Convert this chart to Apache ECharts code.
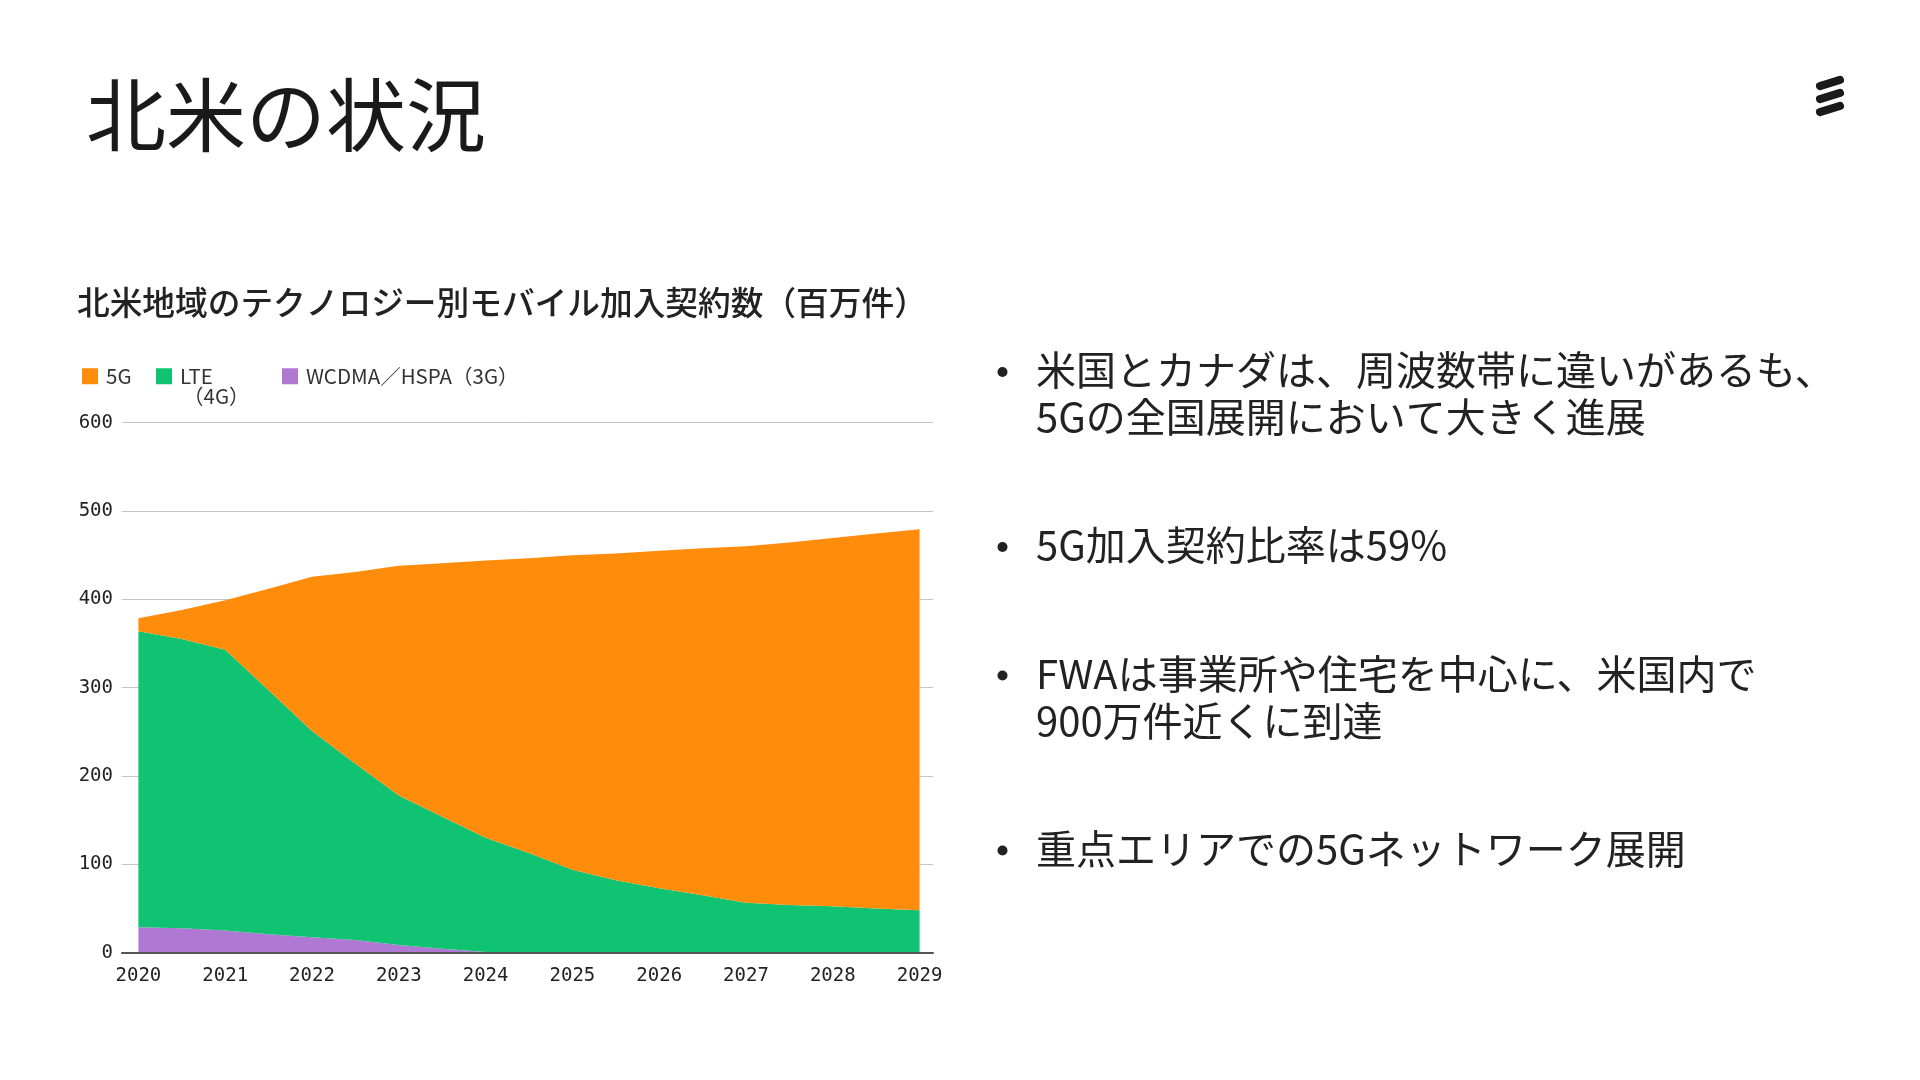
<!DOCTYPE html>
<html>
<head>
<meta charset="utf-8">
<script src="https://cdn.jsdelivr.net/npm/echarts@6/dist/echarts.min.js"></script>
<style>
  html, body { margin: 0; padding: 0; background: #ffffff; }
  #chart { width: 1920px; height: 1080px; }
</style>
</head>
<body>
<div id="chart"></div>
<script>
// ---- data ----
const years = ['2020', '2020.5', '2021', '2021.5', '2022', '2022.5', '2023', '2023.5', '2024', '2024.5',
               '2025', '2025.5', '2026', '2026.5', '2027', '2027.5', '2028', '2028.5', '2029'];
const wcdma3g = [28.7, 27.6, 25, 21, 17.4, 14.3, 8.7, 4.5, 0.8, 0,
                 0, 0, 0, 0, 0, 0, 0, 0, 0];
const lte4g = [335.3, 327.4, 318, 276, 233.6, 199.7, 169.3, 149.5, 129.2, 113,
               94, 82, 73, 65, 56.5, 54, 52.5, 50, 48];
const nr5g = [14.5, 33, 56, 115, 174.5, 217, 260, 287, 314, 333.5,
              356, 370, 382, 393, 403.5, 410.5, 417, 424.5, 431.5];
const seriesNames = ['WCDMA／HSPA（3G）', 'LTE（4G）', '5G'];
const seriesColors = ['#AF78D2', '#0FC373', '#FF8C0A'];
const yTicks = { min: 0, max: 600, interval: 100 };

const pageTitle = '北米の状況';
const chartTitle = '北米地域のテクノロジー別モバイル加入契約数（百万件）';
const bullets = [
  ['米国とカナダは、周波数帯に違いがあるも、', '5Gの全国展開において大きく進展'],
  ['5G加入契約比率は59%'],
  ['FWAは事業所や住宅を中心に、米国内で', '900万件近くに到達'],
  ['重点エリアでの5Gネットワーク展開']
];

// ---- chart ----
const chart = echarts.init(document.getElementById('chart'), null, { renderer: 'canvas' });
const jp = '"Noto Sans CJK JP", "Noto Sans", sans-serif';
const mono = '"DejaVu Sans Mono", monospace';

const allVals = [wcdma3g, lte4g, nr5g];
const series = allVals.map((vals, i) => ({
  name: seriesNames[i],
  type: 'line',
  stack: 'total',
  xAxisIndex: 0,
  yAxisIndex: 0,
  data: vals,
  symbol: 'none',
  showSymbol: false,
  lineStyle: { width: 0 },
  itemStyle: { color: seriesColors[i] },
  areaStyle: { color: seriesColors[i], opacity: 1 },
  z: 2
}));

const legendBase = {
  orient: 'horizontal',
  top: 366,
  padding: 0,
  itemWidth: 16,
  itemHeight: 16,
  icon: 'rect',
  selectedMode: false,
  textStyle: { fontFamily: jp, fontSize: 20.5, color: '#333', padding: [0, 0, 0, 3] }
};

// graphic texts
const graphics = [];
function txt(x, y, text, font, fill) {
  return {
    type: 'text', x: x, y: y,
    style: { text: text, font: font, fill: fill, textAlign: 'left', textVerticalAlign: 'middle' }
  };
}
graphics.push(txt(86, 115, pageTitle, '400 80px ' + jp, '#1a1a1a'));
graphics.push(txt(77, 303, chartTitle, '500 32.7px ' + jp, '#222'));
graphics.push(txt(183, 396, '（4G）', '400 20.5px ' + jp, '#333'));
const bulletY = [[370, 416.5], [545], [673.5, 721], [848.5]];
bullets.forEach((lines, bi) => {
  graphics.push({
    type: 'circle', shape: { cx: 1002.5, cy: bulletY[bi][0] + 2, r: 5 },
    style: { fill: '#222' }
  });
  lines.forEach((ln, li) => {
    graphics.push(txt(1036, bulletY[bi][li], ln, '400 40px ' + jp, '#222'));
  });
});
// logo (three slanted bars)
[83, 96, 109].forEach(cy => {
  graphics.push({
    type: 'rect', x: 1830, y: cy, rotation: 17 * Math.PI / 180,
    shape: { x: -14.5, y: -4, width: 29, height: 8, r: 4 },
    style: { fill: '#1a1a1a' }
  });
});

const option = {
  animation: false,
  backgroundColor: '#ffffff',
  grid: [
    { left: 138.4, right: 1000.4, top: 422.7, bottom: 127.3 },   // data area
    { left: 122, right: 987, top: 422.7, bottom: 127.3 }         // frame (gridlines, axis line)
  ],
  legend: [
    Object.assign({}, legendBase, { left: 82, data: ['5G'] }),
    Object.assign({}, legendBase, { left: 156, data: ['LTE（4G）'], formatter: () => 'LTE' }),
    Object.assign({}, legendBase, { left: 282, data: ['WCDMA／HSPA（3G）'] })
  ],
  xAxis: [
    {
      gridIndex: 0,
      type: 'category',
      data: years,
      boundaryGap: false,
      axisLine: { show: false },
      axisTick: { show: false },
      splitLine: { show: false },
      axisLabel: {
        interval: 1,
        formatter: v => v.split('.')[0],
        margin: 14,
        fontFamily: mono, fontSize: 19, color: '#222'
      }
    },
    {
      gridIndex: 1,
      type: 'value', min: 0, max: 1,
      axisLine: { show: true, lineStyle: { color: '#555', width: 2 } },
      axisTick: { show: false },
      axisLabel: { show: false },
      splitLine: { show: false },
      z: 5
    }
  ],
  yAxis: [
    {
      gridIndex: 0,
      type: 'value',
      min: yTicks.min, max: yTicks.max, interval: yTicks.interval,
      show: false,
      splitLine: { show: false }
    },
    {
      gridIndex: 1,
      type: 'value',
      min: yTicks.min, max: yTicks.max, interval: yTicks.interval,
      axisLine: { show: false },
      axisTick: { show: false },
      splitLine: { show: true, lineStyle: { color: '#c4c4c4', width: 1 } },
      axisLabel: { margin: 9, fontFamily: mono, fontSize: 19, color: '#222' }
    }
  ],
  graphic: graphics,
  series: series
};
chart.setOption(option);
</script>
</body>
</html>
